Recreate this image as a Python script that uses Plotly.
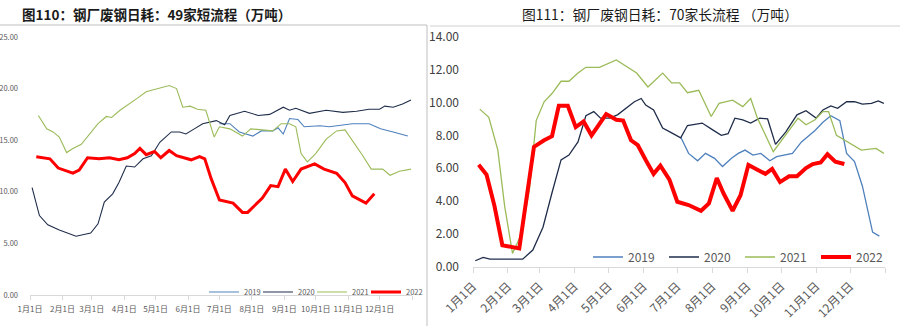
import plotly.graph_objects as go

BASE = "2021"

# ---------------- Left chart: 49 short-process mills (万吨) ----------------
L19_dates = ["07-01","07-11","07-20","08-02","08-10","08-21","08-26","08-31","09-06","09-14",
             "09-20","10-05","10-14","11-05","11-21","12-02","12-14","12-28"]
L19_vals = [16.6,16.6,15.8,15.4,15.9,15.9,16.2,15.6,17.1,17.0,
            16.3,16.4,16.3,16.6,16.6,16.1,15.8,15.4]

L20_dates = ["01-03","01-10","01-18","01-29","02-14","02-28","03-07","03-13","03-21","03-27",
             "04-03","04-11","04-19","04-27","05-05","05-16","05-24","05-30","06-07","06-15",
             "06-28","07-06","07-11","07-25","08-07","08-18","08-31","09-06","09-12","09-25",
             "10-11","10-27","11-09","11-21","12-01","12-06","12-14","12-23","12-31"]
L20_vals = [10.4,7.7,6.8,6.3,5.7,6.0,6.9,9.0,9.8,10.9,
            12.5,12.4,13.2,13.5,14.8,15.8,15.8,15.6,16.1,16.6,
            16.9,16.5,17.4,17.8,17.4,17.5,18.2,17.9,18.1,17.6,
            17.9,17.7,17.8,18.0,18.0,18.3,18.2,18.5,18.9]

L21_dates = ["01-09","01-17","01-23","01-29","02-05","02-11","02-19","02-27","03-07","03-15",
             "03-20","03-28","04-06","04-14","04-22","04-30","05-08","05-14","05-21","05-27",
             "06-03","06-10","06-18","06-26","07-01","07-11","07-23","07-31","08-11","08-21",
             "08-29","09-06","09-12","09-17","09-23","10-01","10-11","10-21","10-29","11-05",
             "11-15","11-23","12-04","12-11","12-20","12-31"]
L21_vals = [17.4,16.1,15.8,15.3,13.8,14.2,14.6,15.6,16.6,17.3,
            17.2,17.9,18.5,19.1,19.7,19.9,20.1,20.3,20.0,18.2,
            18.3,18.0,17.9,15.3,16.3,16.1,15.4,16.1,16.0,15.9,
            16.6,16.6,16.3,13.7,12.9,13.7,15.1,15.9,16.0,15.0,
            13.5,12.2,12.2,11.6,12.0,12.2]

L22_dates = ["01-07","01-20","01-28","02-03","02-11","02-17","02-25","03-08","03-18","03-27",
             "04-04","04-11","04-16","04-22","04-30","05-06","05-14","05-21","06-04","06-12",
             "06-17","06-23","07-01","07-14","07-23","07-28","08-02","08-11","08-19","08-26",
             "09-02","09-09","09-17","09-30","10-09","10-21","10-29","11-05","11-18","11-26"]
L22_vals = [13.4,13.2,12.3,12.1,11.8,12.1,13.3,13.2,13.3,13.1,
            13.3,13.7,14.2,13.6,13.9,13.3,14.0,13.5,13.1,13.4,
            13.2,11.3,9.2,8.9,8.0,8.0,8.5,9.4,10.6,10.5,
            12.2,11.0,12.2,12.7,12.2,11.8,10.9,9.6,8.9,9.8]

# ---------------- Right chart: 70 long-process mills (万吨) ----------------
R19_dates = ["07-04","07-11","07-19","07-26","08-03","08-10","08-18","08-24","08-30","09-06",
             "09-13","09-21","09-27","10-11","10-19","10-31","11-07","11-14","11-22","11-28",
             "12-05","12-12","12-21","12-27"]
R19_vals = [7.9,6.9,6.45,6.9,6.6,6.1,6.6,6.9,7.1,6.8,
            6.9,6.45,6.7,6.9,7.6,8.3,8.8,9.2,8.9,6.9,
            6.4,4.9,2.1,1.85]

R20_dates = ["01-03","01-10","01-16","02-14","02-23","03-04","03-12","03-20","03-27","04-04",
             "04-11","04-18","04-24","05-02","05-09","05-17","05-24","05-30","06-03","06-10",
             "06-18","06-26","07-04","07-10","07-23","08-01","08-09","08-15","08-21","08-28",
             "09-04","09-12","09-19","09-26","10-05","10-15","10-23","11-01","11-07","11-14",
             "11-20","11-28","12-05","12-12","12-20","12-26","12-31"]
R20_vals = [0.35,0.55,0.45,0.45,1.0,2.4,4.5,6.5,6.8,7.6,
            9.2,9.45,9.05,9.05,9.25,9.65,10.05,10.25,9.85,9.55,
            8.45,8.15,7.85,8.6,8.75,8.35,8.0,8.1,9.05,8.95,
            8.75,9.05,9.0,7.45,8.2,9.25,9.5,9.05,9.55,9.8,
            9.65,10.05,10.05,9.9,9.95,10.1,9.95]

R21_dates = ["01-07","01-15","01-23","01-29","02-05","02-13","02-20","02-26","03-05","03-12",
             "03-20","03-27","04-04","04-11","04-23","04-30","05-08","05-17","05-26","06-05",
             "06-12","06-18","06-26","07-03","07-10","07-20","07-31","08-07","08-19","08-28",
             "09-04","09-10","09-24","10-05","10-16","10-23","10-31","11-07","11-12","11-19",
             "11-26","12-11","12-24","12-31"]
R21_vals = [9.6,9.1,7.1,3.7,0.8,2.0,4.7,8.9,10.05,10.55,
            11.3,11.3,11.8,12.15,12.15,12.35,12.6,12.2,11.8,10.95,
            11.4,11.8,11.2,11.2,10.6,10.75,9.15,9.95,10.15,9.75,
            10.25,9.05,7.0,8.0,9.05,8.65,8.95,9.45,9.45,8.0,
            7.7,7.1,7.2,6.9]

R22_dates = ["01-06","01-13","01-20","01-27","02-11","02-24","03-05","03-12","03-18","03-26",
             "04-02","04-09","04-16","04-23","04-29","05-08","05-14","05-21","05-27","06-03",
             "06-10","06-16","06-24","07-01","07-11","07-22","07-29","08-05","08-11","08-19",
             "08-26","09-02","09-08","09-17","09-23","09-30","10-08","10-15","10-23","10-29",
             "11-05","11-11","11-18","11-26"]
R22_vals = [6.2,5.6,3.7,1.3,1.1,7.3,7.7,7.95,9.8,9.8,
            8.5,8.85,8.0,8.75,9.3,8.95,8.9,7.7,7.4,6.5,
            5.65,6.15,5.3,3.95,3.75,3.4,3.85,5.4,4.45,3.4,
            4.35,6.2,6.0,5.65,5.95,5.15,5.5,5.5,6.0,6.25,
            6.35,6.85,6.4,6.25]

YEARS = ["2019", "2020", "2021", "2022"]
COLORS = ["#4F81BD", "#1F2D4A", "#9BBB59", "#FF0000"]

MONTH_TICKS = [f"{BASE}-{m:02d}-01" for m in range(1, 13)] + ["2022-01-01"]
MONTH_TEXT = [f"{m}月1日" for m in range(1, 13)] + [""]


def full(dates):
    return [f"{BASE}-{d}" for d in dates]


W, H = 900, 326
fig = go.Figure()

left = [(L19_dates, L19_vals), (L20_dates, L20_vals), (L21_dates, L21_vals), (L22_dates, L22_vals)]
right = [(R19_dates, R19_vals), (R20_dates, R20_vals), (R21_dates, R21_vals), (R22_dates, R22_vals)]

LEFT_LEGENDS = ["legend", "legend3", "legend4", "legend5"]
for i, (d, v) in enumerate(left):
    fig.add_trace(go.Scatter(x=full(d), y=v, mode="lines", name=YEARS[i], showlegend=True,
                             line=dict(color=COLORS[i], width=3 if i == 3 else 1.1),
                             xaxis="x", yaxis="y", legend=LEFT_LEGENDS[i]))
for i, (d, v) in enumerate(right):
    fig.add_trace(go.Scatter(x=full(d), y=v, mode="lines", name=YEARS[i], showlegend=True,
                             line=dict(color=COLORS[i], width=4 if i == 3 else 1.3),
                             xaxis="x2", yaxis="y2", legend="legend2"))

FONT = "Noto Sans CJK SC, Noto Sans, sans-serif"
AX = "#D9D9D9"
TXT = "#595959"

small_leg = dict(orientation="h", xanchor="left", yanchor="middle", y=(H - 292) / H,
                 font=dict(size=7.5, color=TXT), bgcolor="rgba(0,0,0,0)", itemwidth=30)
left_text_x = [244, 298, 352, 406]

layout_legends = {}
for name, tx in zip(LEFT_LEGENDS, left_text_x):
    layout_legends[name] = dict(small_leg, x=(tx - 40) / W)

fig.update_layout(
    width=W, height=H, margin=dict(l=0, r=0, t=0, b=0), showlegend=True,
    paper_bgcolor="white", plot_bgcolor="white",
    font=dict(family=FONT, color=TXT),
    xaxis=dict(domain=[30 / W, 412 / W], anchor="y", type="date", automargin=False,
               range=[f"{BASE}-01-01", "2022-01-01"],
               tickvals=MONTH_TICKS, ticktext=MONTH_TEXT, tickangle=0,
               tickfont=dict(size=8, color=TXT), ticks="outside", ticklen=4,
               ticklabelstandoff=2,
               tickcolor=AX, showline=True, linecolor=AX, showgrid=False, zeroline=False),
    yaxis=dict(domain=[(H - 295) / H, (H - 37) / H], anchor="x", range=[0, 25], automargin=False,
               tickvals=[0, 5, 10, 15, 20, 25], tickformat=".2f",
               tickfont=dict(size=7.5, color=TXT), ticks="", ticklabelstandoff=11,
               showline=False, showgrid=False, zeroline=False),
    xaxis2=dict(domain=[473 / W, 885 / W], anchor="y2", type="date", automargin=False,
                range=[f"{BASE}-01-01", "2022-01-01"],
                tickvals=MONTH_TICKS, ticktext=MONTH_TEXT, tickangle=-45,
                tickfont=dict(size=12, color=TXT), ticks="outside", ticklen=5,
                ticklabelstandoff=2, ticklabelshift=0,
                tickcolor=AX, showline=True, linecolor=AX, showgrid=False, zeroline=False),
    yaxis2=dict(domain=[(H - 266.5) / H, (H - 37) / H], anchor="x2", range=[0, 14], automargin=False,
                tickvals=list(range(0, 15, 2)), tickformat=".2f",
                tickfont=dict(size=12, color="#404040"), ticks="", ticklabelstandoff=13,
                showline=False, showgrid=False, zeroline=False),
    legend2=dict(orientation="h", x=588 / W, y=(H - 257) / H, xanchor="left", yanchor="middle",
                 font=dict(size=12, color=TXT), bgcolor="rgba(0,0,0,0)", itemwidth=30,
                 entrywidth=31),
    annotations=[
        dict(text="<b>图110：钢厂废钢日耗：49家短流程（万吨）</b>", xref="paper", yref="paper",
             x=20 / W, y=(H - 14) / H, xanchor="left", yanchor="middle", showarrow=False,
             font=dict(size=13.5, color="#1a1a1a", family=FONT)),
        dict(text="图111：钢厂废钢日耗：70家长流程 （万吨）", xref="paper", yref="paper",
             x=660 / W, y=(H - 14) / H, xanchor="center", yanchor="middle", showarrow=False,
             font=dict(size=13.8, color="#1a1a1a", family=FONT)),
    ],
    shapes=[
        dict(type="line", xref="paper", yref="paper", x0=0, x1=427 / W, y0=(H - 25) / H, y1=(H - 25) / H,
             line=dict(color="#BFBFBF", width=1)),
        dict(type="line", xref="paper", yref="paper", x0=427 / W, x1=427 / W, y0=0, y1=(H - 25) / H,
             line=dict(color="#BFBFBF", width=1)),
        dict(type="line", xref="paper", yref="paper", x0=430 / W, x1=1, y0=(H - 26) / H, y1=(H - 26) / H,
             line=dict(color="#D0D0D0", width=1)),
    ],
    **layout_legends,
)

fig.write_html("out.html")
